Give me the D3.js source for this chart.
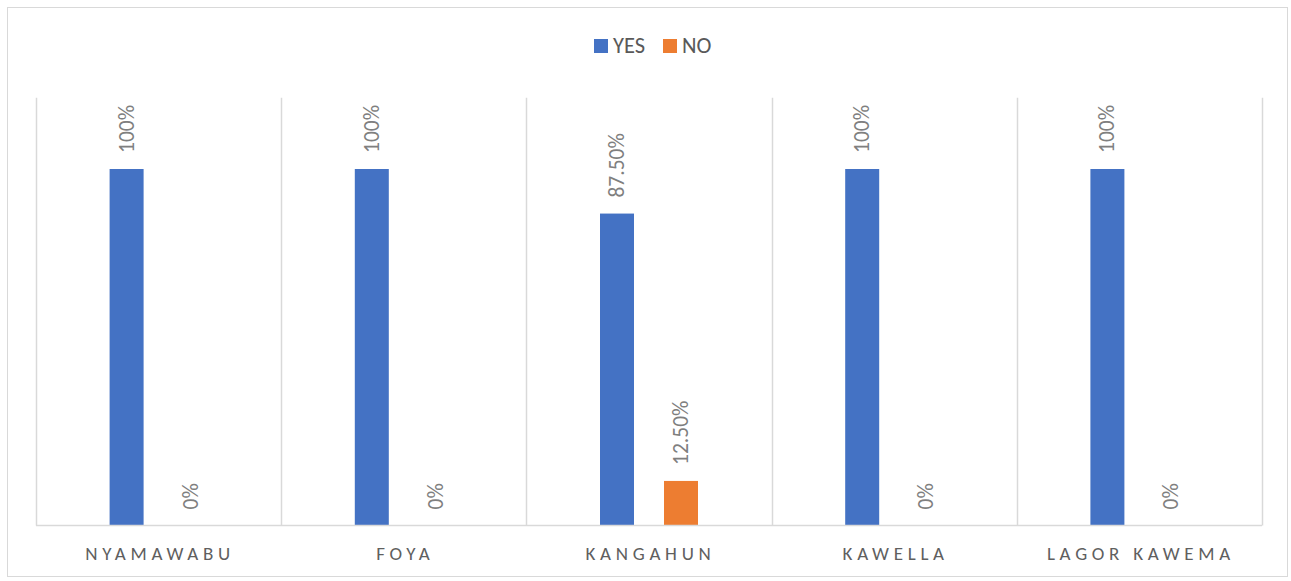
<!DOCTYPE html>
<html><head><meta charset="utf-8">
<script src="https://cdn.jsdelivr.net/npm/d3@7"></script>
<style>body{margin:0;background:#fff}svg{display:block}</style>
</head><body>
<svg id="c" width="1291" height="581"></svg>
<script>
const categories = ["NYAMAWABU", "FOYA", "KANGAHUN", "KAWELLA", "LAGOR KAWEMA"];
const seriesNames = ["YES", "NO"];
const yesValues = [1.00, 1.00, 0.875, 1.00, 1.00];
const noValues = [0.00, 0.00, 0.125, 0.00, 0.00];
const valueLabels = { YES: ["100%", "100%", "87.50%", "100%", "100%"], NO: ["0%", "0%", "12.50%", "0%", "0%"] };
const colors = { YES: "#4472C4", NO: "#ED7D31" };

const svg = d3.select("#c");
const font = "Carlito, Calibri, 'Liberation Sans', sans-serif";

svg.append("rect").attr("x", 7.5).attr("y", 7.5).attr("width", 1280).attr("height", 569)
  .attr("fill", "#fff").attr("stroke", "#d9d9d9").attr("stroke-width", 1);

const x = d3.scaleBand().domain(categories).range([36, 1262]);
const xs = d3.scaleBand().domain(seriesNames).range([-49, 49]).paddingInner(30 / 64);
const y = d3.scaleLinear().domain([0, 1.2]).range([525.5, 97.7]);

// vertical category separators
const seps = d3.range(categories.length + 1).map(i => 36 + i * x.step());
svg.append("g").selectAll("line").data(seps).join("line")
  .attr("x1", d => Math.round(d) + 0.5).attr("x2", d => Math.round(d) + 0.5)
  .attr("y1", y(1.2)).attr("y2", y(0))
  .attr("stroke", "#d9d9d9").attr("stroke-width", 1.5);

const data = [];
categories.forEach((c, i) => {
  data.push({ cat: c, s: "YES", v: yesValues[i], label: valueLabels.YES[i] });
  data.push({ cat: c, s: "NO", v: noValues[i], label: valueLabels.NO[i] });
});

const cx = d => x(d.cat) + x.bandwidth() / 2;

svg.append("g").selectAll("rect").data(data).join("rect")
  .attr("x", d => cx(d) + xs(d.s)).attr("width", xs.bandwidth())
  .attr("y", d => y(d.v)).attr("height", d => y(0) - y(d.v))
  .attr("fill", d => colors[d.s]);

// baseline
svg.append("line").attr("x1", 36).attr("x2", 1262).attr("y1", 525.5).attr("y2", 525.5)
  .attr("stroke", "#d9d9d9").attr("stroke-width", 1.5);

// data labels
svg.append("g").selectAll("text").data(data).join("text")
  .attr("transform", d => `translate(${cx(d) + xs(d.s) + xs.bandwidth() / 2 + 7},${y(d.v) - 16}) rotate(-90)`)
  .attr("text-anchor", "start")
  .attr("font-family", font).attr("font-size", 21.5).attr("fill", "#7f7f7f")
  .text(d => d.label);

// category labels
svg.append("g").selectAll("text").data(categories).join("text")
  .attr("x", d => x(d) + x.bandwidth() / 2 + 1.5).attr("y", 560)
  .attr("text-anchor", "middle")
  .attr("font-family", font).attr("font-size", 19).attr("letter-spacing", "4.7px").attr("fill", "#5f5f5f")
  .text(d => d);

// legend
const leg = svg.append("g");
const legX = { YES: 594, NO: 663 };
seriesNames.forEach(s => {
  leg.append("rect").attr("x", legX[s]).attr("y", 39).attr("width", 14).attr("height", 14).attr("fill", colors[s]);
  leg.append("text").attr("x", legX[s] + 19).attr("y", 53)
    .attr("font-family", font).attr("font-size", 22.5).attr("fill", "#595959").text(s);
});
</script>
</body></html>
